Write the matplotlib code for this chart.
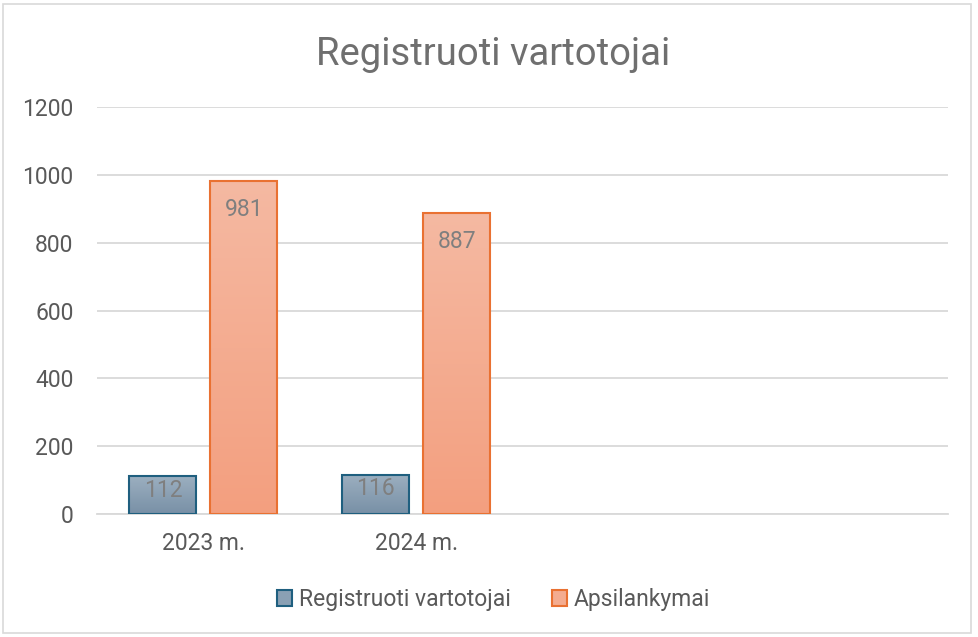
import matplotlib
matplotlib.use("Agg")
import matplotlib.pyplot as plt
import numpy as np
from matplotlib.patches import Patch, Rectangle
from matplotlib.colors import LinearSegmentedColormap

categories = ["2023 m.", "2024 m.", "", ""]
series_names = ["Registruoti vartotojai", "Apsilankymai"]
reg_values = [112, 116, None, None]
visit_values = [981, 887, None, None]
yticks = [0, 200, 400, 600, 800, 1000, 1200]

plt.rcParams['font.family'] = ['Roboto', 'DejaVu Sans']

fig = plt.figure(figsize=(9.79, 6.37), dpi=100)
ax = fig.add_axes([0.0991, 0.1931, 0.8693, 0.6389])

# border of the chart area
fig.patches.append(Rectangle((3/979, 4/637), 968/979, 629/637, transform=fig.transFigure,
                             fill=False, edgecolor='#d9d9d9', linewidth=1.2))

styles = [
    dict(top='#9cafc0', bottom='#7890a6', edge='#1f5f7f'),
    dict(top='#f5b9a2', bottom='#f39f7f', edge='#e97132'),
]
width = 0.315
offsets = [-0.19, 0.19]
x = np.arange(len(categories))
ax.set_xlim(-0.5, len(categories) - 0.5)
ax.set_ylim(0, 1200)

for vals, st, off in zip([reg_values, visit_values], styles, offsets):
    cmap = LinearSegmentedColormap.from_list('g', [st['bottom'], st['top']])
    for xi, v in zip(x, vals):
        if v is None:
            continue
        bar = ax.bar(xi + off, v, width, facecolor='none', edgecolor=st['edge'],
                     linewidth=1.5, zorder=3)[0]
        grad = np.linspace(0, 1, 256).reshape(-1, 1)
        im = ax.imshow(grad, cmap=cmap, origin='lower', aspect='auto',
                       extent=[xi + off - width/2, xi + off + width/2, 0, v], zorder=2)
        im.set_clip_path(bar)
        dy = -12 if v > 300 else -2
        ax.annotate(f"{v}", (xi + off, v), xytext=(0, dy), textcoords='offset points',
                    ha='center', va='top', fontsize=16.5, color='#7f7f7f', zorder=4)

ax.set_xlim(-0.5, len(categories) - 0.5)
ax.set_ylim(0, 1200)
ax.set_yticks(yticks)
ax.set_xticks(x)
ax.set_xticklabels(categories)
ax.grid(axis='y', color='#d9d9d9', linewidth=1.3, zorder=0)
ax.set_axisbelow(True)
for s in ['top', 'right', 'left']:
    ax.spines[s].set_visible(False)
ax.spines['bottom'].set_color('#d9d9d9')
ax.spines['bottom'].set_linewidth(1.3)
ax.tick_params(axis='both', length=0, labelsize=16.5, labelcolor='#595959')
ax.tick_params(axis='y', pad=17)
ax.tick_params(axis='x', pad=13)

fig.text(0.504, 0.915, "Registruoti vartotojai", ha='center', va='center',
         fontsize=27.5, color='#6f6f6f')

handles = [Patch(facecolor='#8aa0b4', edgecolor=styles[0]['edge'], linewidth=1.5),
           Patch(facecolor='#f4ac90', edgecolor=styles[1]['edge'], linewidth=1.5)]
fig.legend(handles, series_names, loc='center', bbox_to_anchor=(0.504, 0.059), ncol=2,
           frameon=False, fontsize=16.5, labelcolor='#595959', handlelength=0.65,
           handleheight=0.65, handletextpad=0.3, columnspacing=1.8)

fig.savefig("out.png", dpi=100)
